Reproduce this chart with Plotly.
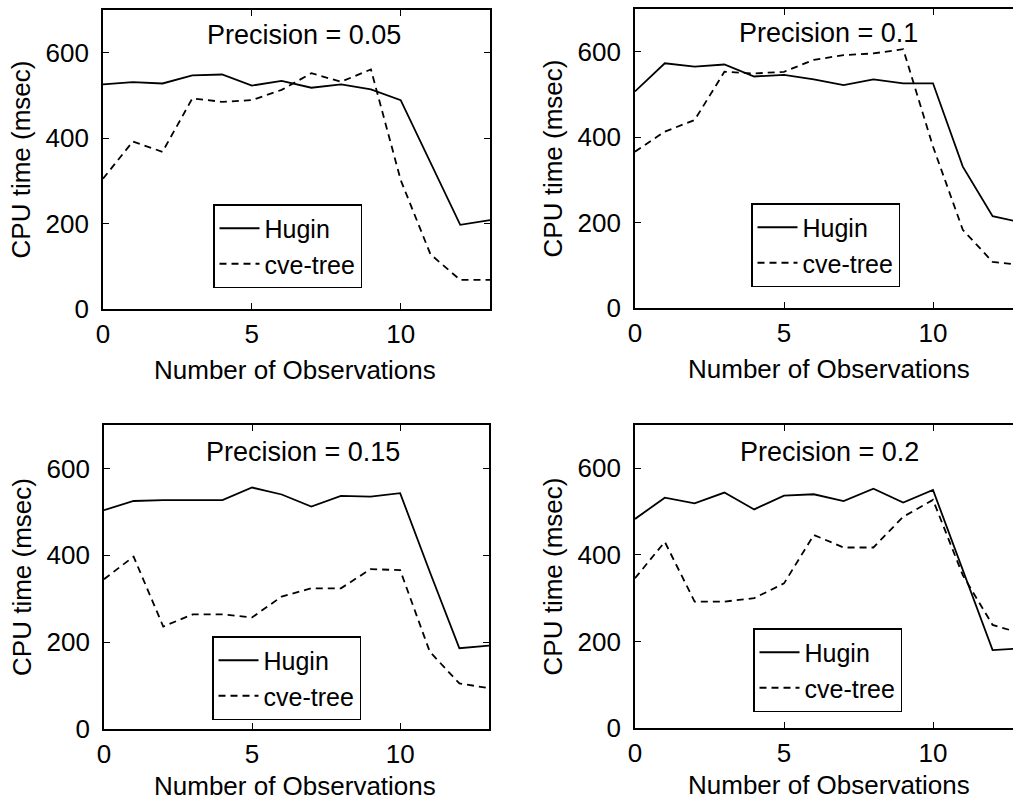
import plotly.graph_objects as go

# ---- data ----
obs = list(range(14))
p05_hugin = [526, 531, 528, 547, 549, 523, 534, 518, 526, 514, 489, 345, 197, 208]
p05_cve = [305, 392, 368, 493, 485, 489, 513, 552, 532, 561, 302, 128, 68, 68]
p10_hugin = [507, 573, 565, 570, 542, 546, 535, 522, 535, 526, 526, 331, 215, 200]
p10_cve = [366, 413, 440, 553, 549, 553, 581, 592, 596, 606, 378, 183, 108, 100]
p15_hugin = [504, 525, 527, 527, 527, 556, 540, 512, 537, 535, 543, 362, 186, 192]
p15_cve = [345, 397, 236, 264, 264, 257, 305, 324, 324, 368, 366, 178, 105, 94]
p20_hugin = [483, 532, 519, 544, 505, 537, 540, 524, 553, 521, 550, 365, 180, 184]
p20_cve = [346, 430, 292, 292, 300, 334, 446, 417, 417, 488, 527, 353, 238, 218]

titles = ["Precision = 0.05", "Precision = 0.1", "Precision = 0.15", "Precision = 0.2"]
series = [(p05_hugin, p05_cve), (p10_hugin, p10_cve), (p15_hugin, p15_cve), (p20_hugin, p20_cve)]
x_ticks = [0, 5, 10]
y_ticks = [0, 200, 400, 600]
x_title = "Number of Observations"
y_title = "CPU time (msec)"

W, H = 1013, 804
FONT = "Liberation Sans, Arial, sans-serif"

# panel geometry (pixels)
panels = [
    dict(l=103, r=490, t=10, b=309, xmax=13, right=False),
    dict(l=635, r=1013, t=9, b=308, xmax=(1013 - 635) / 29.8, right=True),
    dict(l=104, r=489, t=425, b=729, xmax=13, right=False),
    dict(l=635, r=1013, t=425, b=728, xmax=(1013 - 635) / 29.8, right=True),
]
legend_pos = [(213, 204), (751, 203), (212, 636), (753, 628)]
title_pos = [(6.75, 641), (6.5, 644), (6.72, 638), (6.54, 638)]
xtitle_pos = [6.45, 6.5, 6.45, 6.5]
xtitle_shift = [-61, -61, -57, -57]

fig = go.Figure()
layout = dict(
    width=W, height=H, autosize=False,
    margin=dict(l=0, r=0, t=0, b=0),
    paper_bgcolor="white", plot_bgcolor="white",
    font=dict(family=FONT, size=26, color="black"),
    annotations=[],
)

for i, (p, (hug, cve)) in enumerate(zip(panels, series)):
    k = "" if i == 0 else str(i + 1)
    xa, ya = "x" + k, "y" + k
    lg = "legend" + k
    fig.add_trace(go.Scatter(x=obs, y=hug, mode="lines", name="Hugin",
                             line=dict(color="black", width=1.8),
                             xaxis=xa, yaxis=ya, legend=lg))
    fig.add_trace(go.Scatter(x=obs, y=cve, mode="lines", name="cve-tree",
                             line=dict(color="black", width=1.8, dash="7px,5px"),
                             xaxis=xa, yaxis=ya, legend=lg))
    layout["xaxis" + k] = dict(
        domain=[p["l"] / W, p["r"] / W], range=[0, p["xmax"]], anchor=ya,
        tickvals=x_ticks, ticks="inside", ticklen=6, tickwidth=1.3, tickcolor="black",
        showline=True, linecolor="black", linewidth=1.6, mirror="ticks",
        showgrid=False, zeroline=False, ticklabelstandoff=1, automargin=False,
        tickfont=dict(size=26),
    )
    layout["yaxis" + k] = dict(
        domain=[1 - p["b"] / H, 1 - p["t"] / H], range=[0, 700], anchor=xa,
        tickvals=y_ticks, ticks="inside", ticklen=6, tickwidth=1.3, tickcolor="black",
        showline=True, linecolor="black", linewidth=1.6,
        mirror=(False if p["right"] else "ticks"),
        showgrid=False, zeroline=False, ticklabelstandoff=7, automargin=False,
        tickfont=dict(size=26),
        title=dict(text=y_title, font=dict(size=26), standoff=8),
    )
    lx, ly = legend_pos[i]
    layout[lg] = dict(
        x=lx / W, y=1 - ly / H, xanchor="left", yanchor="top",
        bgcolor="white", bordercolor="black", borderwidth=1.5,
        font=dict(family=FONT, size=25, color="black"),
        tracegroupgap=0, itemwidth=40,
    )
    tx, ty = title_pos[i]
    layout["annotations"].append(dict(
        x=tx, y=ty, xref=xa, yref=ya, text=titles[i], showarrow=False,
        font=dict(family=FONT, size=27, color="black"),
        xanchor="center", yanchor="middle",
    ))
    layout["annotations"].append(dict(
        x=xtitle_pos[i], y=0, xref=xa, yref=ya + " domain", yshift=xtitle_shift[i],
        text=x_title, showarrow=False,
        font=dict(family=FONT, size=26, color="black"),
        xanchor="center", yanchor="middle",
    ))

fig.update_layout(**layout)
fig.write_html("out.html")
